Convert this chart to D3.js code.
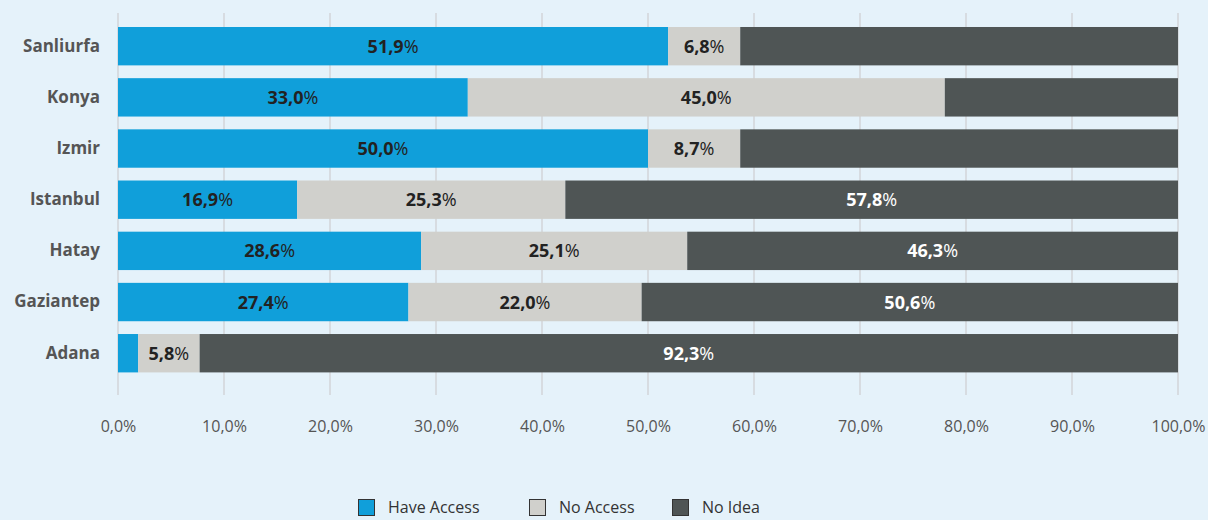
<!DOCTYPE html>
<html>
<head>
<meta charset="utf-8">
<script src="https://cdn.jsdelivr.net/npm/d3@7"></script>
<style>
  html, body { margin: 0; padding: 0; background: #e5f2fa; }
  svg { display: block; }
  svg text { font-family: "Open Sans", "Noto Sans", sans-serif; }
</style>
</head>
<body>
<svg id="chart" width="1208" height="520"></svg>
<script>
const cities = [ "Sanliurfa", "Konya", "Izmir", "Istanbul", "Hatay", "Gaziantep", "Adana" ];
const haveAccess = [ 51.9, 33.0, 50.0, 16.9, 28.6, 27.4, 1.9 ];
const noAccess = [ 6.8, 45.0, 8.7, 25.3, 25.1, 22.0, 5.8 ];
const noIdea = [ 41.3, 22.0, 41.3, 57.8, 46.3, 50.6, 92.3 ];
// which segments carry a value label in the original
const showHave = [ true, true, true, true, true, true, false ];
const showNo = [ true, true, true, true, true, true, true ];
const showIdea = [ false, false, false, true, true, true, true ];
const seriesNames = [ "Have Access", "No Access", "No Idea" ];
const xTicks = [ 0, 10, 20, 30, 40, 50, 60, 70, 80, 90, 100 ];

const COLORS = [ "#109fda", "#d0d0cc", "#4f5555" ];
const LABEL_COLORS = [ "#222", "#222", "#fff" ];
const FONT = "'Open Sans', 'Noto Sans', sans-serif";

const svg = d3.select( "#chart" );
const MARGINS = { left: 118, right: 1178, top: 20.6, bottom: 378.8 };

const xScale = d3.scaleLinear()
  .domain( [ 0, 100 ] )
  .range( [ MARGINS.left, MARGINS.right ] );

const yScale = d3.scaleBand()
  .domain( cities )
  .range( [ MARGINS.top, MARGINS.bottom ] )
  .paddingInner( 0.25 )
  .paddingOuter( 0.125 );

const fmt = v => d3.format( ".1f" )( v ).replace( ".", "," );

// grid
svg.append( "g" )
  .selectAll( "line" )
  .data( xTicks )
  .enter()
  .append( "line" )
  .attr( "x1", d => xScale( d ) )
  .attr( "x2", d => xScale( d ) )
  .attr( "y1", 13 )
  .attr( "y2", 395 )
  .attr( "stroke", "#d2d5d8" )
  .attr( "stroke-width", 1.5 );

// x axis labels
const xAxis = d3.axisBottom( xScale )
  .tickValues( xTicks )
  .tickSize( 0 )
  .tickPadding( 0 )
  .tickFormat( d => `${fmt( d )}%` );

const xg = svg.append( "g" )
  .attr( "transform", "translate(0,421)" )
  .call( xAxis )
  .attr( "font-family", FONT )
  .attr( "font-size", 16 );
xg.select( ".domain" ).remove();
xg.selectAll( "text" ).attr( "fill", "#555" );

// y axis labels
const yAxis = d3.axisLeft( yScale ).tickSize( 0 ).tickPadding( 0 );
const yg = svg.append( "g" )
  .attr( "transform", "translate(100,0)" )
  .call( yAxis )
  .attr( "font-family", FONT )
  .attr( "font-size", 17 );
yg.select( ".domain" ).remove();
yg.selectAll( "text" )
  .attr( "fill", "#555" )
  .style( "font-weight", "bold" );

// stacked bars
const rows = cities.map( ( c, i ) => ( {
  city: c,
  vals: [ haveAccess[i], noAccess[i], noIdea[i] ],
  show: [ showHave[i], showNo[i], showIdea[i] ],
} ) );

rows.forEach( row => {
  let acc = 0;
  row.vals.forEach( ( v, s ) => {
    const x0 = xScale( acc );
    const x1 = s === 2 ? xScale( 100 ) : xScale( acc + v );
    svg.append( "rect" )
      .attr( "x", x0 )
      .attr( "y", yScale( row.city ) )
      .attr( "width", x1 - x0 )
      .attr( "height", yScale.bandwidth() )
      .attr( "fill", COLORS[s] );
    if ( row.show[s] ) {
      const t = svg.append( "text" )
        .attr( "x", ( x0 + x1 ) / 2 )
        .attr( "y", yScale( row.city ) + yScale.bandwidth() / 2 )
        .attr( "dy", "0.36em" )
        .attr( "text-anchor", "middle" )
        .attr( "fill", LABEL_COLORS[s] )
        .style( "font-size", "18px" );
      t.append( "tspan" ).style( "font-weight", "bold" ).text( fmt( v ) );
      t.append( "tspan" ).text( "%" );
    }
    acc += v;
  } );
} );

// legend
const legendX = [ 358, 529, 672 ];
const legend = svg.append( "g" );
seriesNames.forEach( ( name, i ) => {
  legend.append( "rect" )
    .attr( "x", legendX[i] + 0.5 )
    .attr( "y", 499.5 )
    .attr( "width", 16 )
    .attr( "height", 16 )
    .attr( "fill", COLORS[i] )
    .attr( "stroke", "#333" )
    .attr( "stroke-width", 1 );
  legend.append( "text" )
    .attr( "x", legendX[i] + 30 )
    .attr( "y", 513 )
    .attr( "fill", "#333" )
    .style( "font-size", "16px" )
    .text( name );
} );
</script>
</body>
</html>
